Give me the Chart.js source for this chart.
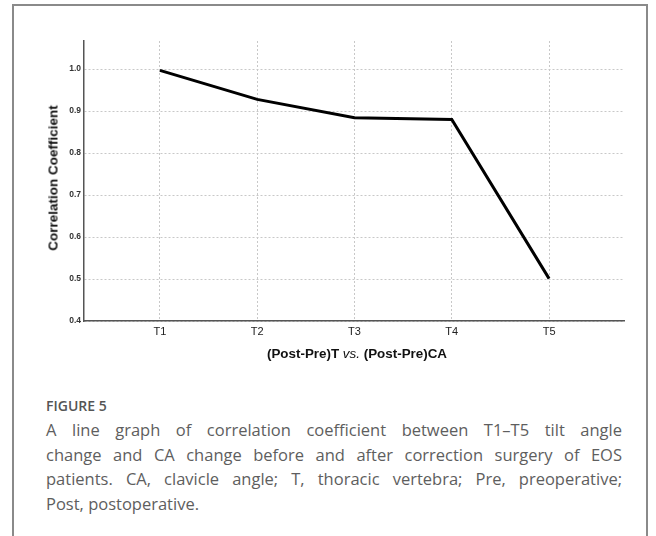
<!DOCTYPE html>
<html>
<head>
<meta charset="utf-8">
<script src="https://cdn.jsdelivr.net/npm/chart.js@4"></script>
<style>
    html, body { margin: 0; padding: 0; background: #fff; }
    body { width: 656px; height: 536px; position: relative; overflow: hidden; }
    .frame {
        position: absolute; left: 12px; top: 4px; width: 636px; height: 560px;
        border: 2px solid #8a8a8a; box-sizing: border-box;
    }
    #chartBox { position: absolute; left: 0; top: 0; width: 656px; height: 360px; }
    .y-title {
        position: absolute; left: 53px; top: 178px; white-space: nowrap;
        font: bold 13.5px "Liberation Sans", Arial, sans-serif; color: #111;
        transform: translate(-50%, -50%) rotate(-90deg);
    }
    .x-title {
        position: absolute; left: 357px; top: 353px; white-space: nowrap;
        font: bold 13.4px "Liberation Sans", Arial, sans-serif; color: #111;
        transform: translate(-50%, -50%);
    }
    .x-title i { font-weight: normal; }
    .fig-label {
        position: absolute; left: 46px; top: 396px;
        font: 600 14px "Open Sans", sans-serif; color: #555;
    }
    .caption {
        position: absolute; left: 46px; top: 418px; width: 576px;
        font: 16.5px/24.5px "Open Sans", sans-serif; color: #5e5e5e;
    }
    .caption div { text-align: justify; text-align-last: justify; white-space: nowrap; }
    .caption div.last { text-align-last: left; }
</style>
</head>
<body>
<div class="frame"></div>
<div id="chartBox"><canvas id="chart"></canvas></div>
<div class="y-title">Correlation Coefficient</div>
<div class="x-title">(Post-Pre)T <i>vs.</i> (Post-Pre)CA</div>
<div class="fig-label">FIGURE 5</div>
<div class="caption">
    <div>A line graph of correlation coefficient between T1–T5 tilt angle</div>
    <div>change and CA change before and after correction surgery of EOS</div>
    <div>patients. CA, clavicle angle; T, thoracic vertebra; Pre, preoperative;</div>
    <div class="last">Post, postoperative.</div>
</div>
<script>
    // values
    const vertebrae = ['T1', 'T2', 'T3', 'T4', 'T5'];
    const correlation = [0.997, 0.928, 0.884, 0.880, 0.501];
    const yTicks = [0.4, 0.5, 0.6, 0.7, 0.8, 0.9, 1.0];

    const points = vertebrae.map((name, i) => ({ x: i + 1, y: correlation[i] }));

    new Chart(document.getElementById('chart'), {
        type: 'line',
        data: {
            datasets: [{
                data: points,
                borderColor: '#000',
                borderWidth: 3,
                pointRadius: 0,
                tension: 0,
                fill: false
            }]
        },
        options: {
            responsive: true,
            maintainAspectRatio: false,
            animation: false,
            layout: { padding: { top: 41, right: 32, left: 0, bottom: 0 } },
            plugins: { legend: { display: false }, tooltip: { enabled: false } },
            scales: {
                x: {
                    type: 'linear',
                    min: 0.22,
                    max: 5.77,
                    afterBuildTicks: scale => {
                        scale.ticks = vertebrae.map((name, i) => ({ value: i + 1 }));
                    },
                    afterFit: scale => { scale.height = 39; },
                    ticks: {
                        padding: 4,
                        color: '#222',
                        font: { family: 'Liberation Sans', size: 11 },
                        callback: value => vertebrae[value - 1] || ''
                    },
                    grid: { color: '#c8c8c8', lineWidth: 1, drawTicks: false },
                    border: { color: '#555', width: 1.5, dash: [2, 2] }
                },
                y: {
                    min: 0.4,
                    max: 1.067,
                    afterBuildTicks: scale => {
                        scale.ticks = yTicks.map(v => ({ value: v }));
                    },
                    afterFit: scale => { scale.width = 84; },
                    ticks: {
                        padding: 3,
                        color: '#333',
                        font: { family: 'Liberation Sans', size: 8.5, weight: 'bold' },
                        callback: value => value.toFixed(1)
                    },
                    grid: { color: '#c8c8c8', lineWidth: 1, drawTicks: false },
                    border: { color: '#555', width: 1.5, dash: [2, 2] }
                }
            }
        }
    });
</script>
</body>
</html>
